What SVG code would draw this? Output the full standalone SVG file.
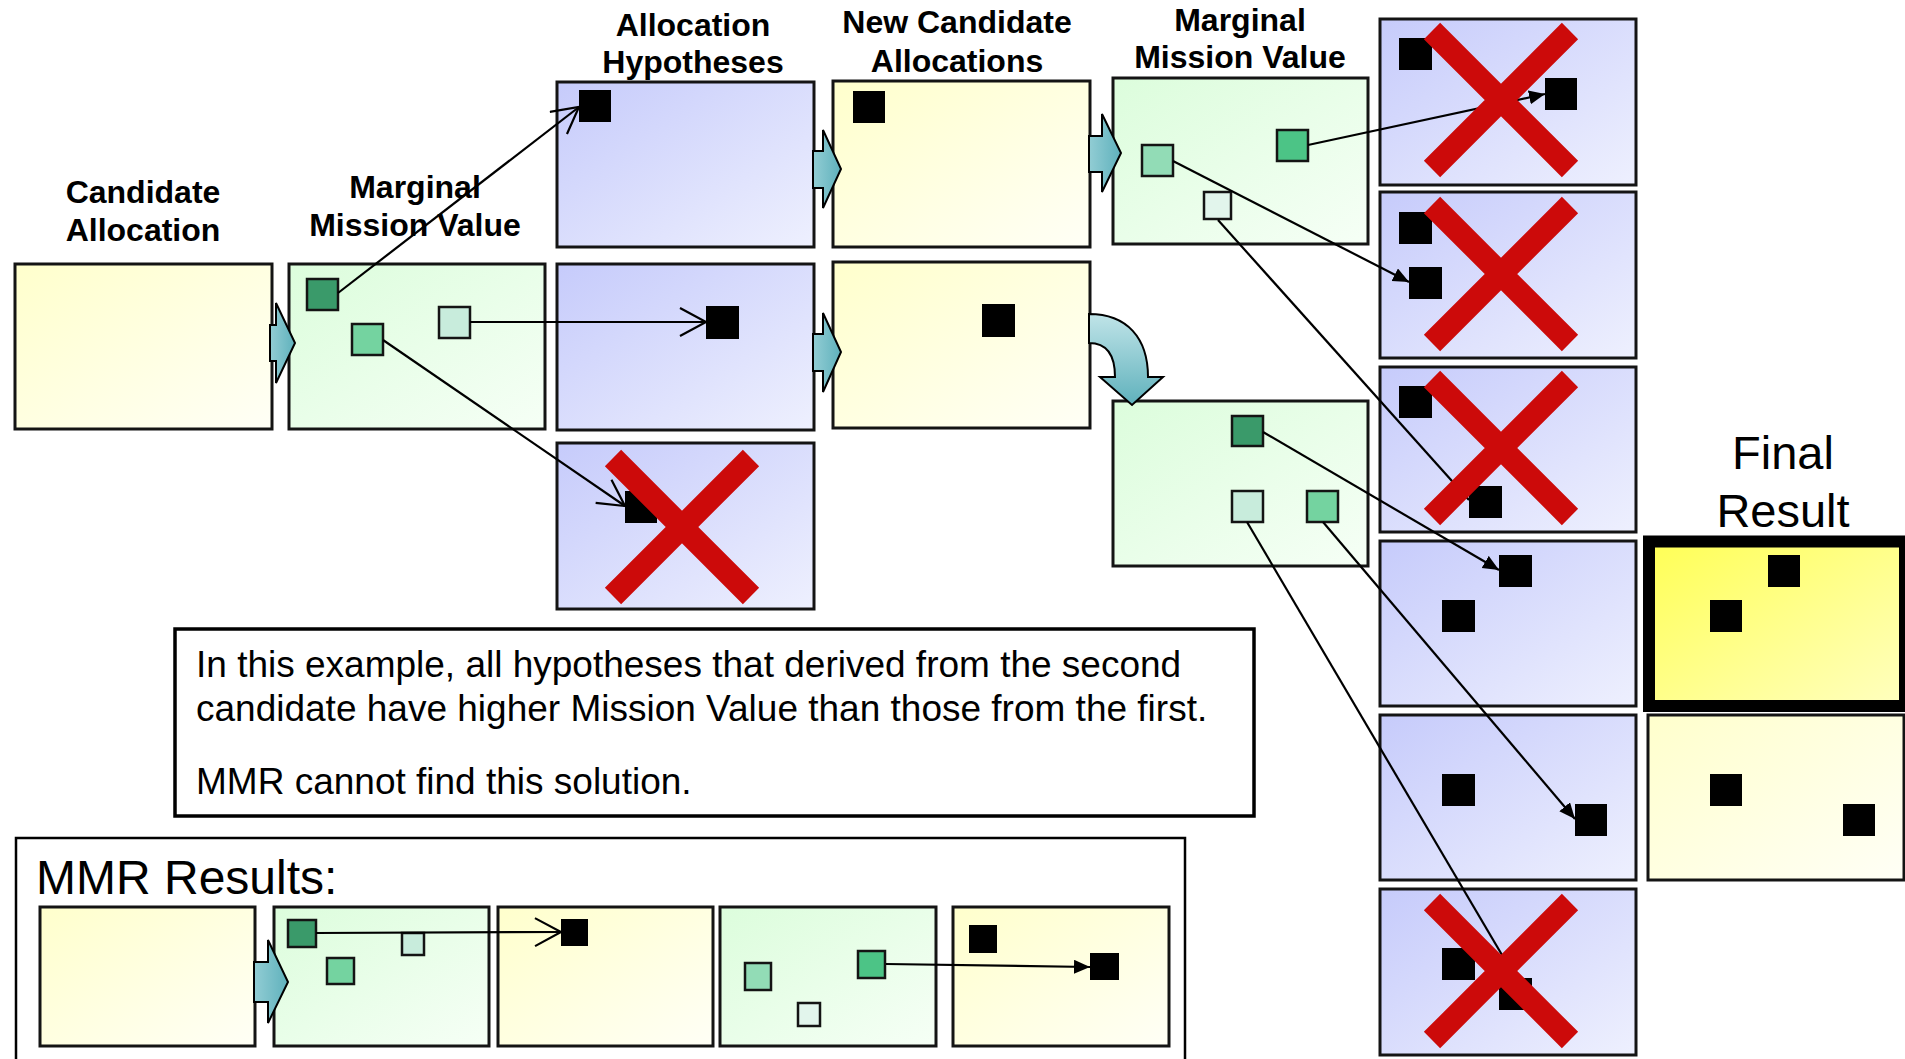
<svg xmlns="http://www.w3.org/2000/svg" width="1905" height="1059" viewBox="0 0 1905 1059">
  <defs>
    <linearGradient id="gYellow" x1="0" y1="0" x2="1" y2="1">
      <stop offset="0" stop-color="#FFFFCC"/>
      <stop offset="1" stop-color="#FFFFF6"/>
    </linearGradient>
    <linearGradient id="gGreen" x1="0" y1="0" x2="1" y2="1">
      <stop offset="0" stop-color="#DCFDDC"/>
      <stop offset="1" stop-color="#F6FFF6"/>
    </linearGradient>
    <linearGradient id="gBlue" x1="0" y1="0" x2="1" y2="1">
      <stop offset="0" stop-color="#C6CBFB"/>
      <stop offset="1" stop-color="#EEF0FE"/>
    </linearGradient>
    <linearGradient id="gFinal" x1="0" y1="0" x2="1" y2="1">
      <stop offset="0" stop-color="#FFFF55"/>
      <stop offset="1" stop-color="#FFFFC0"/>
    </linearGradient>
    <linearGradient id="gTeal" x1="0" y1="0" x2="1" y2="0">
      <stop offset="0" stop-color="#92CDD4"/>
      <stop offset="1" stop-color="#5FB1BC"/>
    </linearGradient>
    <linearGradient id="gTealV" x1="0" y1="0" x2="0" y2="1">
      <stop offset="0" stop-color="#C0E4E8"/>
      <stop offset="1" stop-color="#5FB1BC"/>
    </linearGradient>
    <marker id="open" markerUnits="userSpaceOnUse" markerWidth="30" markerHeight="32" refX="27" refY="15" orient="auto">
      <path d="M1,1 L27,15 L1,29" fill="none" stroke="#000" stroke-width="2.2"/>
    </marker>
    <marker id="solid" markerUnits="userSpaceOnUse" markerWidth="18" markerHeight="16" refX="16" refY="7" orient="auto">
      <path d="M0,0 L16,7 L0,14 Z" fill="#000"/>
    </marker>
    <style>
      .box { stroke: #141414; stroke-width: 3; }
      .y { fill: url(#gYellow); }
      .g { fill: url(#gGreen); }
      .b { fill: url(#gBlue); }
      .blk { fill: #000; }
      .sq { stroke: #141414; stroke-width: 2.5; }
      .dk { fill: #3A9A6A; }
      .md { fill: #74D3A0; }
      .lt { fill: #C8ECDC; }
      .ml { fill: #92DCB6; }
      .br { fill: #4CC486; }
      .vl { fill: #E2F5EC; }
      .chev { fill: url(#gTeal); stroke: #000; stroke-width: 2; }
      .cross { stroke: #CC0A0A; stroke-width: 23; stroke-linecap: butt; }
      .link { stroke: #000; stroke-width: 2.2; fill: none; }
      .title { font-family: "Liberation Sans", Arial, sans-serif; font-weight: bold; font-size: 32px; text-anchor: middle; fill: #000; }
      .note { font-family: "Liberation Sans", Arial, sans-serif; font-size: 37px; fill: #000; }
      .big { font-family: "Liberation Sans", Arial, sans-serif; font-size: 47px; text-anchor: middle; fill: #000; }
      .head { font-family: "Liberation Sans", Arial, sans-serif; font-size: 48px; fill: #000; }
    </style>
  </defs>

  <rect width="1905" height="1059" fill="#fff"/>

  <!-- column headings -->
  <g id="headings">
    <text class="title" x="143" y="203">Candidate</text>
    <text class="title" x="143" y="241">Allocation</text>
    <text class="title" x="415" y="198">Marginal</text>
    <text class="title" x="415" y="236">Mission Value</text>
    <text class="title" x="693" y="36">Allocation</text>
    <text class="title" x="693" y="73">Hypotheses</text>
    <text class="title" x="957" y="33">New Candidate</text>
    <text class="title" x="957" y="72">Allocations</text>
    <text class="title" x="1240" y="31">Marginal</text>
    <text class="title" x="1240" y="68">Mission Value</text>
    <text class="big" x="1783" y="469">Final</text>
    <text class="big" x="1783" y="527">Result</text>
  </g>

  <!-- starting candidate -->
  <g id="candidate">
    <rect class="box y" x="15" y="264" width="257" height="165"/>
  </g>

  <!-- first marginal value step -->
  <g id="marginal1">
    <rect class="box g" x="289" y="264" width="256" height="165"/>
    <rect class="sq dk" x="307" y="279" width="31" height="31"/>
    <rect class="sq md" x="352" y="324" width="31" height="31"/>
    <rect class="sq lt" x="439" y="307" width="31" height="31"/>
  </g>

  <!-- hypotheses -->
  <g id="hyp1">
    <rect class="box b" x="557" y="82" width="257" height="165"/>
    <rect class="blk" x="579" y="90" width="32" height="32"/>
  </g>
  <g id="hyp2">
    <rect class="box b" x="557" y="264" width="257" height="166"/>
    <rect class="blk" x="706" y="306" width="33" height="33"/>
  </g>
  <g id="hyp3">
    <rect class="box b" x="557" y="443" width="257" height="166"/>
    <rect class="blk" x="625" y="491" width="32" height="32"/>
  </g>

  <!-- new candidates -->
  <g id="newcand1">
    <rect class="box y" x="833" y="81" width="257" height="166"/>
    <rect class="blk" x="853" y="91" width="32" height="32"/>
  </g>
  <g id="newcand2">
    <rect class="box y" x="833" y="262" width="257" height="166"/>
    <rect class="blk" x="982" y="304" width="33" height="33"/>
  </g>

  <!-- second marginal value steps -->
  <g id="marginal2">
    <rect class="box g" x="1113" y="78" width="255" height="166"/>
    <rect class="sq ml" x="1142" y="145" width="31" height="31"/>
    <rect class="sq br" x="1277" y="130" width="31" height="31"/>
    <rect class="sq vl" x="1204" y="192" width="27" height="27"/>
  </g>
  <g id="marginal3">
    <rect class="box g" x="1113" y="401" width="255" height="165"/>
    <rect class="sq dk" x="1232" y="416" width="31" height="30"/>
    <rect class="sq lt" x="1232" y="491" width="31" height="31"/>
    <rect class="sq md" x="1307" y="491" width="31" height="31"/>
  </g>

  <!-- resulting allocations -->
  <g id="res1">
    <rect class="box b" x="1380" y="19" width="256" height="166"/>
    <rect class="blk" x="1399" y="38" width="33" height="32"/>
    <rect class="blk" x="1545" y="78" width="32" height="32"/>
  </g>
  <g id="res2">
    <rect class="box b" x="1380" y="192" width="256" height="166"/>
    <rect class="blk" x="1399" y="212" width="33" height="32"/>
    <rect class="blk" x="1409" y="267" width="33" height="32"/>
  </g>
  <g id="res3">
    <rect class="box b" x="1380" y="367" width="256" height="165"/>
    <rect class="blk" x="1399" y="386" width="33" height="32"/>
    <rect class="blk" x="1469" y="486" width="33" height="32"/>
  </g>
  <g id="res4">
    <rect class="box b" x="1380" y="541" width="256" height="165"/>
    <rect class="blk" x="1499" y="555" width="33" height="32"/>
    <rect class="blk" x="1442" y="600" width="33" height="32"/>
  </g>
  <g id="res5">
    <rect class="box b" x="1380" y="715" width="256" height="165"/>
    <rect class="blk" x="1442" y="774" width="33" height="32"/>
    <rect class="blk" x="1575" y="804" width="32" height="32"/>
  </g>
  <g id="res6">
    <rect class="box b" x="1380" y="889" width="256" height="166"/>
    <rect class="blk" x="1442" y="948" width="33" height="32"/>
    <rect class="blk" x="1499" y="978" width="33" height="32"/>
  </g>

  <!-- final outcome -->
  <g id="final">
    <rect x="1649" y="541.5" width="256" height="164.5" fill="url(#gFinal)" stroke="#000" stroke-width="12"/>
    <rect class="blk" x="1768" y="555" width="32" height="32"/>
    <rect class="blk" x="1710" y="600" width="32" height="32"/>
  </g>
  <g id="alternative">
    <rect class="box y" x="1648" y="715" width="256" height="165"/>
    <rect class="blk" x="1710" y="774" width="32" height="32"/>
    <rect class="blk" x="1843" y="804" width="32" height="32"/>
  </g>

  <!-- flow arrows -->
  <g id="flow">
    <polygon class="chev" points="270,325 276,325 276,303 295,343 276,383 276,361 270,361"/>
    <polygon class="chev" points="813,151 823,151 823,130 841,169 823,208 823,188 813,188"/>
    <polygon class="chev" points="813,334 823,334 823,313 841,352 823,392 823,371 813,371"/>
    <polygon class="chev" points="1089,136 1102,136 1102,114 1121,153 1102,192 1102,172 1089,172"/>
    <path d="M1089,314 C1127,314 1148,338 1148,377 L1163,377 L1132,405 L1100,377 L1115,377 C1115,356 1108,343 1089,343 Z" fill="url(#gTealV)" stroke="#000" stroke-width="2"/>
  </g>

  <!-- connectors between task squares -->
  <g id="connectors">
    <line class="link" x1="338" y1="293" x2="579" y2="107" marker-end="url(#open)"/>
    <line class="link" x1="470" y1="322" x2="706" y2="322" marker-end="url(#open)"/>
    <line class="link" x1="383" y1="340" x2="625" y2="506" marker-end="url(#open)"/>
    <line class="link" x1="1308" y1="145" x2="1545" y2="94" marker-end="url(#solid)"/>
    <line class="link" x1="1173" y1="161" x2="1409" y2="282" marker-end="url(#solid)"/>
    <line class="link" x1="1218" y1="220" x2="1469" y2="500" marker-end="url(#solid)"/>
    <line class="link" x1="1263" y1="432" x2="1499" y2="570" marker-end="url(#solid)"/>
    <line class="link" x1="1323" y1="522" x2="1575" y2="819" marker-end="url(#solid)"/>
    <line class="link" x1="1247" y1="522" x2="1515" y2="977" marker-end="url(#solid)"/>
  </g>

  <!-- rejected hypotheses -->
  <g id="rejections">
    <path class="cross" d="M613,458 L751,596 M751,458 L613,596"/>
    <path class="cross" d="M1432,31 L1570,169 M1570,31 L1432,169"/>
    <path class="cross" d="M1432,205 L1570,343 M1570,205 L1432,343"/>
    <path class="cross" d="M1432,379 L1570,517 M1570,379 L1432,517"/>
    <path class="cross" d="M1432,902 L1570,1040 M1570,902 L1432,1040"/>
  </g>

  <!-- explanation -->
  <g id="note">
    <rect x="175" y="629" width="1079" height="187" fill="#fff" stroke="#000" stroke-width="3.5"/>
    <text class="note" x="196" y="677">In this example, all hypotheses that derived from the second</text>
    <text class="note" x="196" y="721">candidate have higher Mission Value than those from the first.</text>
    <text class="note" x="196" y="794">MMR cannot find this solution.</text>
  </g>

  <!-- MMR results strip -->
  <g id="mmr">
    <rect x="16" y="838" width="1169" height="240" fill="#fff" stroke="#000" stroke-width="2.5"/>
    <text class="head" x="36" y="894">MMR Results:</text>
  </g>
  <g id="mmrA">
    <rect class="box y" x="40" y="907" width="215" height="139"/>
  </g>
  <g id="mmrB">
    <rect class="box g" x="274" y="907" width="215" height="139"/>
    <rect class="sq dk" x="288" y="920" width="28" height="27"/>
    <rect class="sq lt" x="402" y="933" width="22" height="22"/>
    <rect class="sq md" x="327" y="958" width="27" height="26"/>
  </g>
  <g id="mmrC">
    <rect class="box y" x="498" y="907" width="215" height="139"/>
    <rect class="blk" x="561" y="919" width="27" height="27"/>
  </g>
  <g id="mmrD">
    <rect class="box g" x="720" y="907" width="216" height="139"/>
    <rect class="sq ml" x="745" y="963" width="26" height="27"/>
    <rect class="sq vl" x="798" y="1003" width="22" height="23"/>
    <rect class="sq br" x="858" y="951" width="27" height="27"/>
  </g>
  <g id="mmrE">
    <rect class="box y" x="953" y="907" width="216" height="139"/>
    <rect class="blk" x="969" y="925" width="28" height="28"/>
    <rect class="blk" x="1090" y="953" width="29" height="27"/>
  </g>
  <g id="mmrFlow">
    <polygon class="chev" points="254,962 268,962 268,940 288,982 268,1023 268,1002 254,1002"/>
  </g>
  <g id="mmrConnectors">
    <line class="link" x1="316" y1="933" x2="561" y2="932" marker-end="url(#open)"/>
    <line class="link" x1="886" y1="964" x2="1090" y2="967" marker-end="url(#solid)"/>
  </g>
</svg>
